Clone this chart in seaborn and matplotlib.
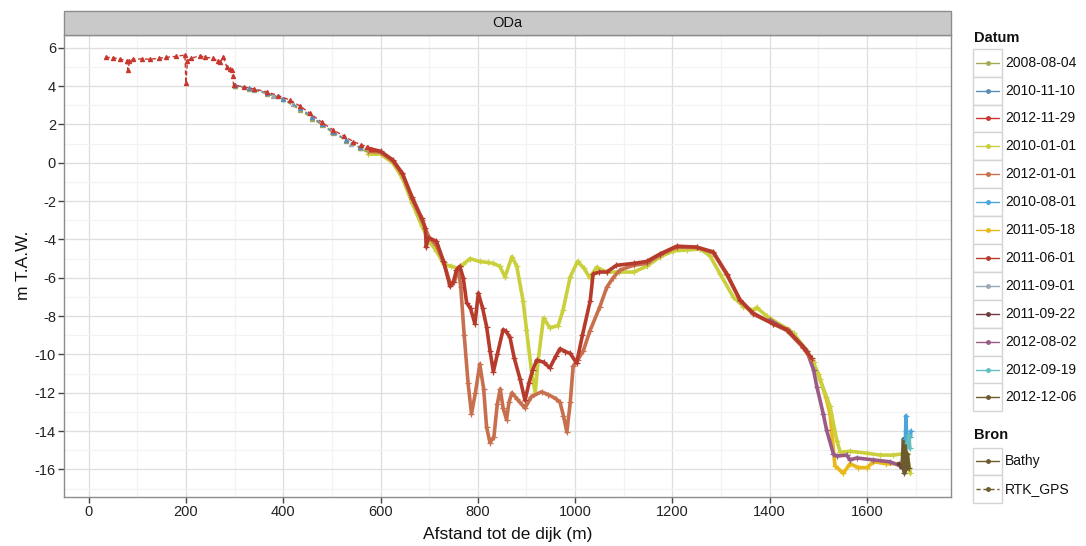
import numpy as np
import pandas as pd
import matplotlib
matplotlib.use("Agg")
import matplotlib.pyplot as plt
from matplotlib.patches import Rectangle
from matplotlib.lines import Line2D
import seaborn as sns

# ---- survey dates and colours -------------------------------------------
datums = ["2008-08-04", "2010-11-10", "2012-11-29", "2010-01-01", "2012-01-01",
          "2010-08-01", "2011-05-18", "2011-06-01", "2011-09-01", "2011-09-22",
          "2012-08-02", "2012-09-19", "2012-12-06"]
kleuren = ["#a4a952", "#5b8db5", "#c8372d", "#c9d03c", "#c8704e",
           "#4aa5dd", "#e9b91a", "#b63b2d", "#9aa9b5", "#6e3b3e",
           "#9a5b86", "#62bfc0", "#6b5b2e"]
bronnen = ["Bathy", "RTK_GPS"]

# ---- RTK_GPS profiles (afstand m, hoogte m T.A.W.) -------------------------
rtk_20121129_x = [35, 50, 65, 78, 81, 84, 92, 110, 126, 145, 160, 180, 198, 200, 203,
                  210, 229, 240, 256, 265, 270, 277, 284, 290, 294, 296, 298, 320,
                  340, 366, 390, 414, 435, 455, 480, 503, 525, 544, 560, 572, 580]
rtk_20121129_y = [5.5, 5.48, 5.4, 5.32, 4.84, 5.3, 5.4, 5.42, 5.4, 5.45, 5.5, 5.55, 5.62,
                  4.14, 5.3, 5.45, 5.58, 5.5, 5.45, 5.3, 5.25, 5.5, 5.0, 4.9, 4.84, 4.5,
                  4.05, 3.95, 3.85, 3.7, 3.5, 3.27, 2.95, 2.58, 2.1, 1.7, 1.4, 1.1,
                  0.95, 0.83, 0.7]
rtk_20080804_x = [300, 330, 366, 400, 434, 460, 480, 503, 530, 558, 570]
rtk_20080804_y = [4.0, 3.85, 3.6, 3.3, 2.75, 2.3, 1.95, 1.55, 1.15, 0.75, 0.7]
rtk_20101110_x = [300, 330, 366, 400, 434, 460, 480, 503, 530, 558]
rtk_20101110_y = [4.05, 3.9, 3.65, 3.35, 2.85, 2.4, 2.0, 1.6, 1.2, 0.8]
rtk_20110901_x = [300, 340, 380, 420, 460, 500, 540, 560]
rtk_20110901_y = [4.0, 3.8, 3.5, 3.05, 2.35, 1.62, 1.0, 0.78]

# ---- Bathy profiles -------------------------------------------------------
bat_20100101_x = [575, 600, 625, 645, 665, 685, 700, 715, 730, 745, 760, 770, 784, 804,
                  820, 832, 845, 856, 870, 880, 893, 900, 911, 918, 924, 935, 948, 965,
                  975, 990, 1005, 1018, 1030, 1044, 1065, 1090, 1120, 1147, 1175, 1202,
                  1229, 1257, 1277, 1298, 1325, 1346, 1366, 1373, 1394, 1428, 1449,
                  1476, 1490, 1503, 1524, 1538, 1545, 1565, 1600, 1627, 1654, 1682, 1689]
bat_20100101_y = [0.45, 0.45, 0.0, -0.8, -2.1, -3.3, -4.1, -4.6, -5.3, -5.4, -5.5, -5.3,
                  -5.0, -5.15, -5.2, -5.25, -5.4, -5.95, -4.9, -5.4, -7.2, -8.7, -11.0,
                  -12.0, -10.3, -8.1, -8.6, -8.5, -7.7, -5.95, -5.15, -5.5, -6.0, -5.45,
                  -5.7, -5.7, -5.7, -5.4, -4.9, -4.6, -4.55, -4.5, -4.85, -5.8, -7.0,
                  -7.5, -7.7, -7.55, -8.0, -8.55, -8.9, -9.8, -10.4, -11.3, -12.7,
                  -14.5, -15.1, -15.05, -15.15, -15.25, -15.25, -15.15, -16.2]
bat_20110518_x = [1400, 1440, 1476, 1500, 1515, 1524, 1534, 1551, 1565, 1582, 1600, 1613,
                  1640, 1668, 1685]
bat_20110518_y = [-8.2, -8.7, -9.8, -11.0, -12.2, -13.1, -15.8, -16.2, -15.7, -15.9,
                  -15.9, -15.6, -15.7, -15.7, -15.9]
bat_20120802_x = [1400, 1440, 1476, 1490, 1497, 1510, 1517, 1531, 1538, 1558, 1565, 1579,
                  1613, 1647, 1668, 1680]
bat_20120802_y = [-8.2, -8.8, -9.8, -10.8, -11.7, -13.1, -13.95, -15.2, -15.3, -15.25,
                  -15.5, -15.4, -15.5, -15.6, -15.8, -15.9]
bat_20120101_x = [575, 600, 625, 645, 665, 685, 700, 715, 730, 743, 752, 760, 765, 772,
                  780, 787, 795, 804, 812, 818, 825, 833, 840, 846, 852, 859, 864, 870,
                  880, 890, 897, 910, 931, 945, 960, 969, 976, 983, 990, 996, 1005, 1017,
                  1030, 1051, 1065, 1078, 1092, 1120, 1147, 1175, 1209, 1250, 1284, 1312,
                  1339, 1366, 1407, 1435, 1469, 1486]
bat_20120101_y = [0.6, 0.55, 0.1, -0.6, -1.9, -3.0, -3.9, -4.3, -5.2, -6.3, -6.2, -5.5,
                  -6.5, -9.0, -11.5, -13.1, -12.0, -10.5, -11.8, -13.8, -14.6, -14.3,
                  -12.6, -11.8, -12.8, -13.4, -12.5, -12.0, -12.3, -12.6, -12.8, -12.2,
                  -11.95, -12.1, -12.3, -12.5, -13.2, -14.05, -12.5, -10.6, -10.3, -9.8,
                  -8.8, -7.5, -6.5, -6.0, -5.6, -5.35, -5.25, -4.8, -4.4, -4.42, -4.7,
                  -5.85, -7.2, -7.9, -8.4, -8.75, -9.65, -10.3]
bat_20110601_x = [575, 600, 625, 645, 665, 685, 692, 694, 698, 715, 729, 743, 750, 756,
                  763, 770, 777, 785, 794, 801, 810, 818, 825, 832, 840, 852, 858, 866,
                  875, 887, 897, 905, 913, 921, 935, 948, 960, 969, 980, 990, 1003, 1015,
                  1031, 1037, 1050, 1065, 1085, 1120, 1147, 1175, 1209, 1250, 1284,
                  1312, 1339, 1366, 1407, 1435, 1469, 1486]
bat_20110601_y = [0.75, 0.6, 0.15, -0.55, -1.8, -2.9, -3.4, -4.4, -3.9, -4.1, -5.1, -6.45,
                  -6.2, -5.6, -5.4, -6.0, -7.3, -7.6, -8.4, -6.8, -7.6, -8.55, -9.8,
                  -10.9, -10.0, -8.7, -8.8, -9.1, -10.2, -11.3, -12.4, -11.5, -10.8,
                  -10.3, -10.4, -10.7, -10.1, -9.7, -9.85, -9.95, -10.45, -9.0, -7.2,
                  -5.8, -5.7, -5.7, -5.35, -5.25, -5.15, -4.75, -4.35, -4.4, -4.65,
                  -5.8, -7.15, -7.85, -8.4, -8.7, -9.6, -10.2]
bat_20110922_x = [1665, 1672, 1678]
bat_20110922_y = [-15.7, -15.9, -15.6]
bat_20121206_x = [1672, 1675, 1677, 1679, 1681, 1683, 1686]
bat_20121206_y = [-15.8, -14.4, -16.2, -14.6, -16.0, -15.2, -15.9]
bat_20100801_x = [1679, 1680, 1681, 1682, 1689, 1690]
bat_20100801_y = [-14.4, -13.2, -14.0, -14.3, -14.3, -14.0]
bat_20120919_x = [1683, 1686, 1688]
bat_20120919_y = [-14.6, -14.2, -14.9]

# drawing order (bottom to top)
bathy = [("2011-05-18", bat_20110518_x, bat_20110518_y),
         ("2010-01-01", bat_20100101_x, bat_20100101_y),
         ("2012-08-02", bat_20120802_x, bat_20120802_y),
         ("2012-01-01", bat_20120101_x, bat_20120101_y),
         ("2011-06-01", bat_20110601_x, bat_20110601_y),
         ("2011-09-22", bat_20110922_x, bat_20110922_y),
         ("2012-12-06", bat_20121206_x, bat_20121206_y),
         ("2010-08-01", bat_20100801_x, bat_20100801_y),
         ("2012-09-19", bat_20120919_x, bat_20120919_y)]
rtk = [("2011-09-01", rtk_20110901_x, rtk_20110901_y),
       ("2008-08-04", rtk_20080804_x, rtk_20080804_y),
       ("2010-11-10", rtk_20101110_x, rtk_20101110_y),
       ("2012-11-29", rtk_20121129_x, rtk_20121129_y)]


def to_frame(groups, bron):
    rows = []
    for datum, xs, ys in groups:
        for a, b in zip(xs, ys):
            rows.append({"Afstand": a, "Hoogte": b, "Datum": datum, "Bron": bron})
    return pd.DataFrame(rows)


df_bathy = to_frame(bathy, "Bathy")
df_rtk = to_frame(rtk, "RTK_GPS")
palette = dict(zip(datums, kleuren))

sns.set_style("white")
plt.rcParams["font.family"] = ["Liberation Sans", "DejaVu Sans"]
plt.rcParams["axes.unicode_minus"] = False

W, H = 1086, 546
fig = plt.figure(figsize=(W / 100, H / 100), dpi=100)


def fx(px):
    return px / W


def fy(py):
    return 1 - py / H


ax_l, ax_r, ax_t, ax_b = 64.3, 950.7, 34.7, 496.7
ax = fig.add_axes([fx(ax_l), fy(ax_b), fx(ax_r - ax_l), (ax_b - ax_t) / H])

for datum, _, _ in bathy:
    sub = df_bathy[df_bathy["Datum"] == datum]
    sns.lineplot(data=sub, x="Afstand", y="Hoogte", hue="Datum", palette=palette,
                 estimator=None, sort=False, legend=False, ax=ax,
                 linewidth=2.6, marker="+", markersize=4.5, zorder=3)
for datum, _, _ in rtk:
    sub = df_rtk[df_rtk["Datum"] == datum]
    sns.lineplot(data=sub, x="Afstand", y="Hoogte", hue="Datum", palette=palette,
                 estimator=None, sort=False, legend=False, ax=ax,
                 linewidth=1.0, linestyle=(0, (3, 2)), marker="^", markersize=3,
                 zorder=3)
for ln in ax.lines:
    ln.set_markeredgecolor(ln.get_color())
    ln.set_markerfacecolor(ln.get_color())
    ln.set_markeredgewidth(0.9)

ax.set_xlim(-50, 1772)
ax.set_ylim(-17.42, 6.68)
ax.set_xticks(np.arange(0, 1601, 200))
ax.set_yticks(np.arange(-16, 7, 2))
ax.set_xticks(np.arange(100, 1772, 200), minor=True)
ax.set_yticks(np.arange(-17, 7, 2), minor=True)
ax.grid(True, which="major", color="#dedede", linewidth=0.9, zorder=0)
ax.grid(True, which="minor", color="#f3f3f3", linewidth=0.9, zorder=0)
ax.set_axisbelow(True)
for s in ax.spines.values():
    s.set_color("#8c8c8c")
    s.set_linewidth(1.0)
ax.tick_params(axis="both", which="major", direction="out", length=4, width=1,
               color="#444444", labelsize=10.5, labelcolor="#222222", pad=2,
               bottom=True, left=True)
ax.tick_params(axis="both", which="minor", length=0)
ax.set_xlabel("Afstand tot de dijk (m)", fontsize=12.5, color="#111111", labelpad=6)
ax.set_ylabel("m T.A.W.", fontsize=12.5, color="#111111", labelpad=3)

# facet strip
fig.add_artist(Rectangle((fx(ax_l), fy(ax_t)), fx(ax_r - ax_l), (ax_t - 11) / H,
                         transform=fig.transFigure, facecolor="#c9c9c9",
                         edgecolor="#8c8c8c", linewidth=1.0))
fig.text(fx((ax_l + ax_r) / 2), fy(22.8), "ODa", ha="center", va="center",
         fontsize=10.5, color="#111111")

# legends
key_l, key_r, key_h = 973.3, 1001.7, 27.9


def legend_block(title, title_y, top, entries):
    fig.text(fx(974), fy(title_y), title, ha="left", va="center", fontsize=10.5,
             fontweight="bold", color="#111111")
    for i, (label, colour, ls, mk) in enumerate(entries):
        y0 = top + i * key_h
        fig.add_artist(Rectangle((fx(key_l), fy(y0 + key_h)), fx(key_r - key_l),
                                 key_h / H, transform=fig.transFigure,
                                 facecolor="white", edgecolor="#d4d4d4",
                                 linewidth=1.0))
        cy = fy(y0 + key_h / 2)
        fig.add_artist(Line2D([fx(key_l + 3), fx(key_r - 3)], [cy, cy],
                              transform=fig.transFigure, color=colour, linewidth=1.0,
                              linestyle=ls))
        fig.add_artist(Line2D([fx((key_l + key_r) / 2)], [cy], transform=fig.transFigure,
                              color=colour, marker=mk, markersize=2.5, linestyle="none"))
        fig.text(fx(1005), cy, label, ha="left", va="center", fontsize=10,
                 color="#111111")


legend_block("Datum", 37.5, 48.7, [(d, c, "-", "o") for d, c in zip(datums, kleuren)])
legend_block("Bron", 435, 447.5, [(b, "#6b5b2e", ls, "o")
                                  for b, ls in zip(bronnen, ["-", (0, (3, 2))])])

fig.savefig("out.png", dpi=100)
